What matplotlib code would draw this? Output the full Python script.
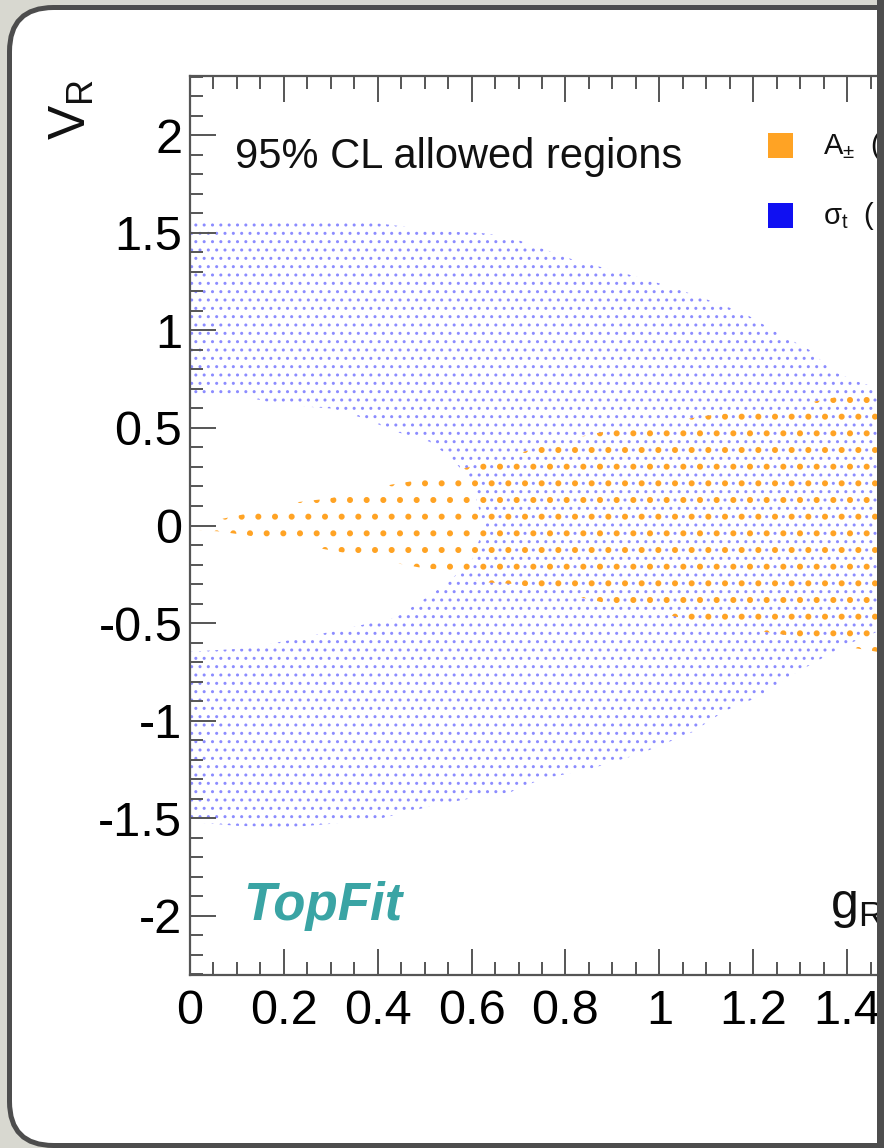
import matplotlib
matplotlib.use("Agg")
import matplotlib.pyplot as plt
from matplotlib.path import Path
from matplotlib.patches import PathPatch, Rectangle, FancyBboxPatch
from matplotlib.transforms import IdentityTransform
import numpy as np

# ---------------- data ----------------
x_ticks = [0.0, 0.2, 0.4, 0.6, 0.8, 1.0, 1.2, 1.4]
x_tick_labels = ["0", "0.2", "0.4", "0.6", "0.8", "1", "1.2", "1.4"]
y_ticks = [-2.0, -1.5, -1.0, -0.5, 0.0, 0.5, 1.0, 1.5, 2.0]
y_tick_labels = ["-2", "-1.5", "-1", "-0.5", "0", "0.5", "1", "1.5", "2"]

# sigma_t allowed region: outer boundary (upper and lower edges)
sig_top_x = [-0.05, 0.00, 0.10, 0.20, 0.30, 0.40, 0.53, 0.62, 0.68, 0.75, 0.82, 0.90,
             0.96, 1.03, 1.10, 1.18, 1.25, 1.32, 1.37, 1.42, 1.47, 1.52]
sig_top_y = [1.57, 1.57, 1.57, 1.57, 1.56, 1.55, 1.51, 1.50, 1.48, 1.42, 1.36, 1.31,
             1.27, 1.22, 1.16, 1.09, 0.99, 0.90, 0.79, 0.74, 0.70, 0.64]
sig_bot_x = [-0.05, 0.00, 0.10, 0.20, 0.30, 0.41, 0.53, 0.62, 0.68, 0.75, 0.85, 0.96,
             1.07, 1.14, 1.21, 1.28, 1.34, 1.39, 1.45, 1.52]
sig_bot_y = [-1.52, -1.52, -1.54, -1.55, -1.53, -1.50, -1.43, -1.39, -1.37, -1.30, -1.25,
             -1.17, -1.06, -0.95, -0.88, -0.77, -0.69, -0.62, -0.56, -0.48]
# sigma_t excluded hole (left inner part)
sig_hole_x = [-0.02, 0.12, 0.19, 0.30, 0.37, 0.44, 0.51, 0.56, 0.60, 0.62, 0.62, 0.60,
              0.55, 0.51, 0.44, 0.33, 0.23, 0.12, -0.02]
sig_hole_y = [0.66, 0.66, 0.62, 0.60, 0.55, 0.48, 0.43, 0.34, 0.22, 0.05, -0.05, -0.18,
              -0.29, -0.36, -0.47, -0.53, -0.58, -0.63, -0.65]

# A_pm allowed region
asym_top_x = [0.00, 0.06, 0.12, 0.17, 0.23, 0.30, 0.37, 0.43, 0.48, 0.53, 0.58, 0.64,
              0.70, 0.80, 0.90, 1.00, 1.09, 1.16, 1.23, 1.32, 1.42, 1.52]
asym_top_y = [0.02, 0.03, 0.06, 0.09, 0.12, 0.14, 0.18, 0.21, 0.23, 0.24, 0.29, 0.33,
              0.37, 0.44, 0.49, 0.52, 0.56, 0.58, 0.60, 0.63, 0.68, 0.71]
asym_bot_x = [0.00, 0.06, 0.12, 0.17, 0.26, 0.33, 0.41, 0.50, 0.55, 0.62, 0.69, 0.80,
              0.89, 1.00, 1.10, 1.21, 1.32, 1.42, 1.52]
asym_bot_y = [-0.02, -0.03, -0.05, -0.07, -0.11, -0.14, -0.18, -0.22, -0.23, -0.29, -0.30,
              -0.35, -0.40, -0.45, -0.50, -0.54, -0.58, -0.63, -0.67]

legend_labels = ["A$_{\u00b1}$  (", "\u03c3$_{t}$  ("]
legend_colors = ["#ffa324", "#1010f2"]

# ---------------- style ----------------
plt.rcParams["font.family"] = ["Liberation Sans", "DejaVu Sans"]
plt.rcParams["mathtext.fontset"] = "custom"
plt.rcParams["mathtext.rm"] = "Liberation Sans"
plt.rcParams["mathtext.it"] = "Liberation Sans:italic"
plt.rcParams["mathtext.default"] = "regular"
plt.rcParams["axes.unicode_minus"] = False
plt.rcParams["hatch.linewidth"] = 1.0

W, H = 884, 1148
DPI = 100
fig = plt.figure(figsize=(W / DPI, H / DPI), dpi=DPI)
fig.patch.set_facecolor("#d8d8d0")

pix = IdentityTransform()

# slide panel
panel = FancyBboxPatch((9.5, 2.5), 1000, H - 10,
                       boxstyle="round,pad=0,rounding_size=44",
                       transform=pix, facecolor="white", edgecolor="#4d4d4d",
                       linewidth=3.6, zorder=-5)
fig.add_artist(panel)

ax = fig.add_axes([190 / W, 1 - 975 / H, 704 / W, 899 / H])
ax.set_facecolor("none")
ax.set_xlim(0, 1.5)
ax.set_ylim(-2.305, 2.305)

# sigma_t region with hole
outer_x = list(sig_top_x) + list(sig_bot_x[::-1])
outer_y = list(sig_top_y) + list(sig_bot_y[::-1])
hole_x = list(sig_hole_x[::-1])
hole_y = list(sig_hole_y[::-1])
verts = list(zip(outer_x, outer_y)) + [(outer_x[0], outer_y[0])]
codes = [Path.MOVETO] + [Path.LINETO] * (len(outer_x) - 1) + [Path.CLOSEPOLY]
hverts = list(zip(hole_x, hole_y)) + [(hole_x[0], hole_y[0])]
hcodes = [Path.MOVETO] + [Path.LINETO] * (len(hole_x) - 1) + [Path.CLOSEPOLY]
sig_path = Path(verts + hverts, codes + hcodes)
sig_patch = PathPatch(sig_path, facecolor="none", edgecolor="#8c8cff",
                      linewidth=0, hatch="..", zorder=1)
ax.add_patch(sig_patch)

# A_pm region
ax_x = list(asym_top_x) + list(asym_bot_x[::-1])
ax_y = list(asym_top_y) + list(asym_bot_y[::-1])
asym_patch = ax.fill(ax_x, ax_y, facecolor="none", edgecolor="#ffa324",
                     linewidth=0, hatch=".", zorder=1.2)[0]
try:
    asym_patch.set_hatch_linewidth(1.9)
    sig_patch.set_hatch_linewidth(1.0)
except Exception:
    pass

# axes style
for s in ax.spines.values():
    s.set_color("#555555")
    s.set_linewidth(1.6)
ax.spines["right"].set_visible(False)
ax.set_xticks(x_ticks)
ax.set_xticklabels(x_tick_labels)
ax.set_yticks(y_ticks)
ax.set_yticklabels(y_tick_labels)
ax.set_xticks(np.arange(0, 1.5001, 0.05), minor=True)
ax.set_yticks(np.arange(-2.3, 2.3001, 0.1), minor=True)
ax.tick_params(which="both", direction="in", top=True, right=False,
               color="#555555", width=1.4)
ax.tick_params(which="major", length=18.7)
ax.tick_params(which="minor", length=9.4)
ax.tick_params(axis="x", which="major", labelsize=35, pad=10.0)
ax.tick_params(axis="y", which="major", labelsize=35, pad=5.5)

def fx(x):
    return x / W

def fy(y):
    return 1 - y / H

fig.text(fx(235), fy(168), "95% CL allowed regions", fontsize=30,
         ha="left", va="baseline", color="#111111")
fig.text(fx(243), fy(920), "TopFit", fontsize=38, fontweight="bold",
         fontstyle="italic", color="#3aa4a4", ha="left", va="baseline")
fig.text(fx(72), fy(79), "V$_{R}$", rotation=90, fontsize=37,
         ha="center", va="top", color="#111111")
fig.text(fx(830), fy(918), "g$_{R}$", fontsize=36, ha="left",
         va="baseline", color="#111111")

# legend
leg_y = [145, 215]
for lab, col, yy in zip(legend_labels, legend_colors, leg_y):
    fig.add_artist(Rectangle((768, H - yy - 12.5), 25, 25, transform=pix,
                             facecolor=col, edgecolor="none", zorder=3))
    fig.text(fx(823), fy(yy + 9), lab, fontsize=21, ha="left",
             va="baseline", color="#111111", zorder=3)

# right border of the slide panel (covers the cropped part)
fig.add_artist(Rectangle((877, 0), 7, H, transform=pix,
                         facecolor="#4d4d4d", edgecolor="none", zorder=20))

fig.savefig("out.png", dpi=DPI, facecolor=fig.get_facecolor())
